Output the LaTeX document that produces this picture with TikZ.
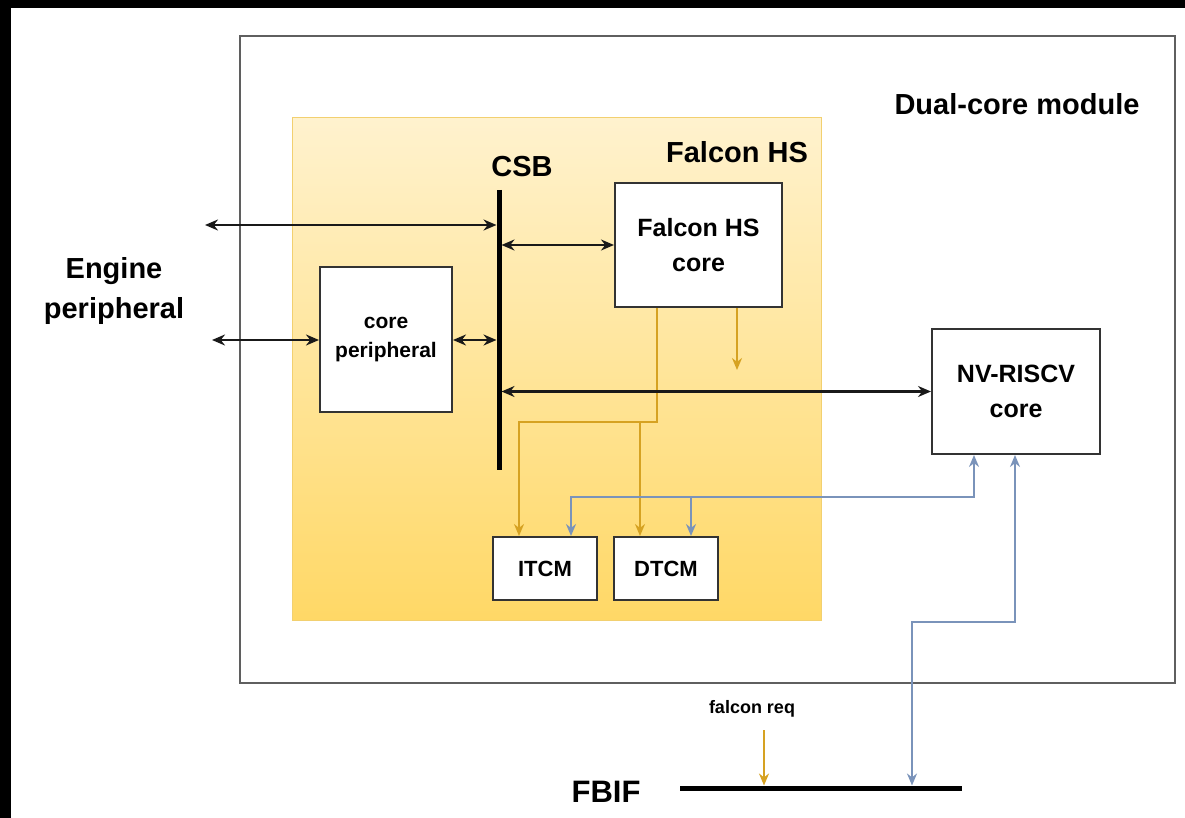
\documentclass[tikz,border=0pt]{standalone}
\usepackage{fontspec}
\setmainfont{Liberation Sans}
\usepackage{tikz}
\usetikzlibrary{arrows.meta}
\definecolor{hsgold}{RGB}{214,162,34}
\definecolor{rvblue}{RGB}{122,147,186}
\definecolor{modgray}{RGB}{95,95,95}
\definecolor{ylwtop}{RGB}{255,242,206}
\definecolor{ylwbot}{RGB}{255,216,102}
\definecolor{ylwedge}{RGB}{242,208,112}
\newcommand{\fsz}[2]{\fontsize{#1}{#2}\selectfont\bfseries}

\begin{document}
\begin{tikzpicture}[x=1pt,y=-1pt,
    blk/.style={draw=black!80,line width=2pt,fill=white,inner sep=0pt,align=center},
    bus/.style={black,line width=5pt},
    dbl/.style={{Stealth[length=13pt,width=11pt]}-{Stealth[length=13pt,width=11pt]},black!90,line width=2.2pt},
    gold/.style={hsgold,line width=1.8pt,-{Stealth[length=12pt,width=10pt]}},
    steel/.style={rvblue,line width=1.8pt,{Stealth[length=12pt,width=10pt]}-{Stealth[length=12pt,width=10pt]}},
    steelend/.style={rvblue,line width=1.8pt,-{Stealth[length=12pt,width=10pt]}}]
    \useasboundingbox (0,0) rectangle (1185,818);
    \fill[black] (0,0) rectangle (1185,8);
    \fill[black] (0,0) rectangle (11,818);

    \node (1) at (707.5,359.5) [draw=modgray,line width=2.5pt,minimum width=935pt,minimum height=647pt] {};
    \node (2) at (556.5,369) [top color=ylwtop,bottom color=ylwbot,draw=ylwedge,line width=1pt,minimum width=529pt,minimum height=502pt] {};
    \node (3) at (1017,115) [anchor=base,font=\fsz{29}{35}] {Dual-core module};
    \node (4) at (737,163) [anchor=base,font=\fsz{29}{35}] {Falcon HS};
    \node (5) at (522,177) [anchor=base,font=\fsz{29}{35}] {CSB};
    \node (8) at (114,291) [align=center,font=\fsz{29}{40}] {Engine\\peripheral};
    \node (14) at (606,802) [anchor=base,font=\fsz{31}{36}] {FBIF};
    \node (17) at (752,713) [anchor=base,font=\fsz{18}{21}] {falcon req};

    \coordinate (6) at (499,190);
    \coordinate (7) at (499,470);
    \coordinate (15) at (680,788);
    \coordinate (16) at (962,788);
    \coordinate (18) at (205,225);
    \coordinate (19) at (212,340);
    \coordinate (21) at (657,422);
    \coordinate (22) at (519,422);
    \coordinate (23) at (640,422);
    \coordinate (24) at (737,370);
    \coordinate (25) at (974,497);
    \coordinate (26) at (571,497);
    \coordinate (27) at (691,497);
    \coordinate (28) at (1015,622);
    \coordinate (29) at (912,622);
    \coordinate (30) at (764,730);

    \node (9) at (386,339.5) [blk,minimum width=132pt,minimum height=145pt,font=\fsz{21}{29}] {core\\peripheral};
    \node (10) at (698.5,245) [blk,minimum width=167pt,minimum height=124pt,font=\fsz{25}{35}] {Falcon HS\\core};
    \node (11) at (1016,391.5) [blk,minimum width=168pt,minimum height=125pt,font=\fsz{25}{35}] {NV-RISCV\\core};
    \node (12) at (545,568.5) [blk,minimum width=104pt,minimum height=63pt,font=\fsz{22}{26}] {ITCM};
    \node (13) at (666,568.5) [blk,minimum width=104pt,minimum height=63pt,font=\fsz{22}{26}] {DTCM};

    \draw[gold] (10.south-|21) -- (21) -- (22) -- (12.north-|22);
    \draw[gold] (23) -- (13.north-|23);
    \draw[gold] (10.south-|24) -- (24);
    \draw[gold,shorten >=2.5pt] (30) -- (30|-15);

    \draw[steel] (11.south-|25) -- (25) -- (26) -- (12.north-|26);
    \draw[steelend] (27) -- (13.north-|27);
    \draw[steel,shorten >=2.5pt] (11.south-|28) -- (28) -- (29) -- (29|-15);

    \draw[bus] (6) -- (7);
    \draw[bus] (15) -- (16);

    \path[dbl]
    (18) edge [shorten >=2.5pt] (6|-18)
    (19) edge (9.west|-19)
    (9.east|-19) edge [shorten >=2.5pt] (6|-19)
    (6|-10.west) edge [shorten <=2.5pt] (10.west)
    (6|-11.west) edge [shorten <=2.5pt] (11.west)
    ;
  \end{tikzpicture}
\end{document}
